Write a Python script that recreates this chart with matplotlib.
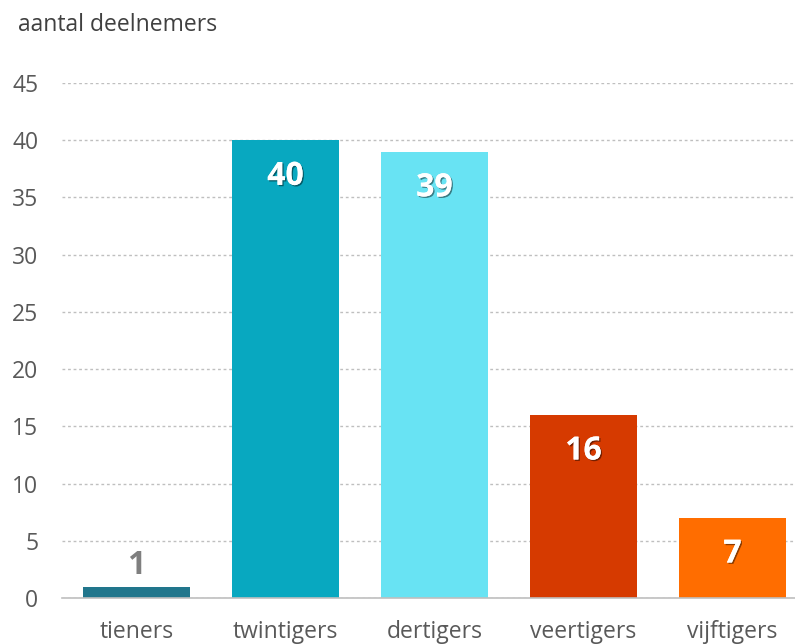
import matplotlib.pyplot as plt
import matplotlib.patheffects as pe

plt.rcParams['font.family'] = ['Open Sans', 'DejaVu Sans']

categories = ['tieners', 'twintigers', 'dertigers', 'veertigers', 'vijftigers']
values = [1, 40, 39, 16, 7]
colors = ['#21768C', '#08A8C0', '#68E3F3', '#D63A00', '#FF6D00']
yticks = [0, 5, 10, 15, 20, 25, 30, 35, 40, 45]

fig = plt.figure(figsize=(7.95, 6.44), dpi=100)
# axes run past the right edge like the original crop
ax = fig.add_axes([62/795, 1-598/644, (807-62)/795, (598-83)/644])

x = range(len(categories))
bars = ax.bar(x, values, width=0.72, color=colors, zorder=3)

ax.set_xlim(-0.5, len(categories) - 0.5)
ax.set_ylim(0, 45)
ax.set_yticks(yticks)
ax.set_xticks(list(x))
ax.set_xticklabels(categories)

ax.grid(axis='y', linestyle=(0, (2, 2)), color='#BFBFBF', linewidth=1, zorder=0)
for s in ['top', 'right', 'left']:
    ax.spines[s].set_visible(False)
ax.spines['bottom'].set_color('#BFBFBF')
ax.spines['bottom'].set_linewidth(1.2)
ax.spines['bottom'].set_zorder(4)

ax.tick_params(axis='y', length=0, pad=17, labelsize=16.5, labelcolor='#595959')
ax.tick_params(axis='x', length=0, pad=16, labelsize=16.5, labelcolor='#595959')

shadow = [pe.withSimplePatchShadow(offset=(1, -1), shadow_rgbFace='black', alpha=0.45), pe.Normal()]
for i, v in enumerate(values):
    if v < 3:
        ax.annotate(str(v), (i, v), xytext=(0, 15), textcoords='offset points',
                    ha='center', va='center', fontsize=23, fontweight='bold', color='#7F7F7F')
    else:
        t = ax.annotate(str(v), (i, v), xytext=(0, -26), textcoords='offset points',
                        ha='center', va='center', fontsize=23, fontweight='bold', color='white')
        t.set_path_effects(shadow)

fig.text(18/795, 1-25/644, 'aantal deelnemers', fontsize=16.5, color='#404040', va='center', ha='left')

fig.savefig('out.png', dpi=100)
